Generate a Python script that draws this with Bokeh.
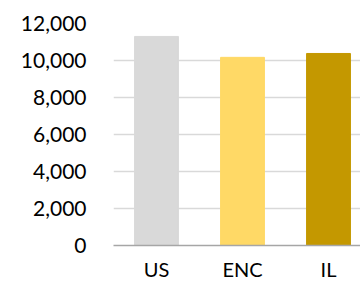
from bokeh.plotting import figure
from bokeh.models import Range1d, FixedTicker, NumeralTickFormatter, ColumnDataSource
from bokeh.embed import file_html
from bokeh.resources import INLINE

categories = ["US", "ENC", "IL"]
values = [11300, 10170, 10380]
colors = ["#D9D9D9", "#FFD966", "#C49800"]
y_ticks = [0, 2000, 4000, 6000, 8000, 10000, 12000]

xpos = [i + 0.5 for i in range(len(categories))]
src = ColumnDataSource(dict(x=xpos, top=values, color=colors))

p = figure(width=360, height=283, output_backend="svg", toolbar_location=None,
           x_range=Range1d(0, 2.872), y_range=Range1d(0, 12000))
p.min_border_left = 113
p.min_border_right = 0
p.min_border_top = 23
p.min_border_bottom = 38
p.outline_line_color = None
p.background_fill_color = "white"
p.border_fill_color = "white"

p.vbar(x="x", top="top", width=0.51, color="color", source=src)

p.xgrid.visible = False
p.ygrid.grid_line_color = "#D9D9D9"
p.ygrid.grid_line_width = 1.5
p.ygrid.ticker = FixedTicker(ticks=y_ticks)

p.yaxis.ticker = FixedTicker(ticks=y_ticks)
p.yaxis.formatter = NumeralTickFormatter(format="0,0")
p.yaxis.axis_line_color = None
p.yaxis.major_tick_line_color = None
p.yaxis.minor_tick_line_color = None
p.yaxis.major_tick_out = 0
p.yaxis.major_label_standoff = 27
p.yaxis.major_label_text_font = "Lato"
p.yaxis.major_label_text_font_size = "21px"
p.yaxis.major_label_text_color = "#000000"

p.xaxis.ticker = FixedTicker(ticks=xpos)
p.xaxis.major_label_overrides = {x: c for x, c in zip(xpos, categories)}
p.xaxis.axis_line_color = "#A6A6A6"
p.xaxis.axis_line_width = 1.5
p.xaxis.major_tick_line_color = None
p.xaxis.minor_tick_line_color = None
p.xaxis.major_tick_out = 0
p.xaxis.major_label_standoff = 11
p.xaxis.major_label_text_font = "Lato"
p.xaxis.major_label_text_font_size = "20px"
p.xaxis.major_label_text_color = "#000000"

open("out.html", "w").write(file_html(p, INLINE))
